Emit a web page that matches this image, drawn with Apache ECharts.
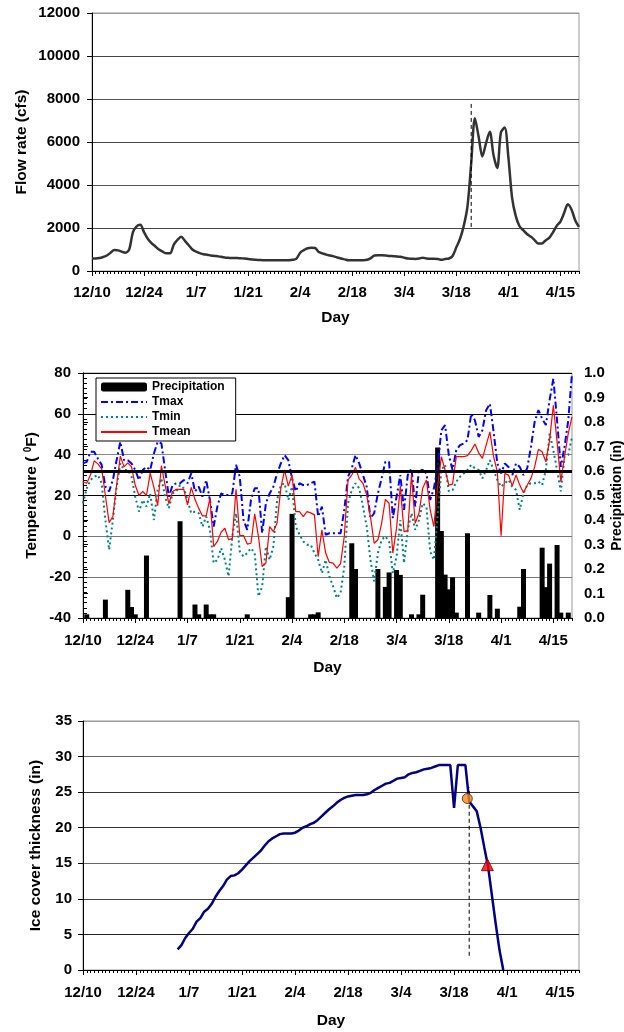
<!DOCTYPE html>
<html>
<head>
<meta charset="utf-8">
<script src="https://cdn.jsdelivr.net/npm/echarts@6/dist/echarts.min.js"></script>
<style>
html,body{margin:0;padding:0;background:#fff;}
#c{width:624px;height:1032px;}
</style>
</head>
<body>
<div id="c"></div>
<script>
// ---------------- data ----------------
// day index 0 = 12/10, 131 = 4/20
const tickLabels = ['12/10','12/24','1/7','1/21','2/4','2/18','3/4','3/18','4/1','4/15'];
const tickDays = [0,14,28,42,56,70,84,98,112,126];
const lastDay = 131;

// daily flow rate (cfs)
const flow = [
 580,580,600,650,720,850,980,960,900,850,
 1000,1800,2080,2150,1800,1500,1300,1150,1000,900,
 820,820,1230,1450,1590,1400,1200,1000,900,830,
 780,760,720,700,680,650,620,610,600,600,
 590,580,560,540,520,510,500,500,500,500,
 500,500,500,500,520,580,850,970,1060,1080,
 1070,880,820,760,720,680,630,580,540,500,
 500,500,500,500,520,600,720,730,730,720,
 700,690,680,660,620,580,570,560,580,620,
 580,570,570,560,520,560,580,700,1100,1500,
 2100,3000,5000,7100,6250,5330,5950,6480,5400,4790,
 6450,6670,5300,3400,2550,2080,1900,1720,1600,1450,
 1280,1280,1420,1540,1800,2100,2300,2700,3100,2850,
 2350,2050
];

// daily temperatures (F)
const tmax = [
 35.7,36.5,41.4,41.4,38,35,24.3,22,27.6,37.3,
 46.3,37.3,37.3,35.7,32.5,27.6,32.5,34,32.5,40.6,
 46.3,45.5,32.5,19.4,25.1,26,26,27.6,26,30.8,
 22,24.3,19.4,27.6,17.8,4.8,14.6,21,20.2,20.2,
 21,35,29.2,8,3.2,17.8,23.5,23.5,1.5,16.2,
 21,24.3,30.8,35.7,39.8,37.3,28.4,22,26,25.1,
 25.1,26,26.8,9.7,14.6,0.8,1.5,1.5,1.5,1.5,
 13,29.2,33.3,39.8,35.7,30,24.3,8.9,11.3,21,
 28.4,36.5,36.5,8.9,19.4,30,13,30,33.3,14.6,
 32.5,32.5,30.8,17.8,23.5,34,52,54.5,39.8,32.5,
 42.2,44.7,45.5,47.1,60.1,56.8,48.7,52,61.8,65,
 51.2,35.7,30.8,35.7,34,30,35.7,34,30,33.3,
 43.8,56.1,61.8,57.7,54.5,66.7,77.2,56.8,34,43.8,
 56.8,79.7
];
const tmin = [
 16.2,23.5,27.6,29.2,30,26,8,-6.6,8,24.3,
 35.7,32.5,32.5,29.2,19.4,12.1,17.8,14.6,21,8,
 22.7,28.4,19.4,13.7,21,22,25.1,23.5,17.8,11.3,
 12.1,11.3,4.8,9.7,3.2,-13.1,-11.5,-5.8,-11.5,-19.6,
 0,11.3,-7.4,-9.9,-8.2,-5.8,-8.2,-29.4,-24.5,-5,
 -11.5,-5,17.8,25.1,26,17.8,24.3,4.8,0.8,-2.5,
 -4.1,-4.1,-8.2,-11.5,-18,-11.5,-19.6,-24.5,-30.2,-27.8,
 -14.8,16.2,22.7,26,23.5,14.6,4.8,-11.5,-22,-8.2,
 -1.7,0,-2.5,-18,-9.9,8,-13.1,3.2,11.3,3.2,
 8,16.2,14.6,-7.4,-11.5,9.7,32.5,35,22,22.7,
 26.8,29.2,30.8,32.5,35,33.3,32.5,28.4,32.5,37.3,
 32.5,27.6,24.3,26,27.6,24.3,22.7,13,21,25.1,
 26,26,26.8,25.1,32.5,50.4,42.2,32.5,22,39,
 39.8,48.7
];
const tmean = [
 26.7,26,30,37,35.5,33,20,6.7,9.7,25,
 39.3,34,36,34,25,20,22,20,31,24,
 15,34.6,25,16,22,23,23,23,15.4,24,
 18,13.7,10,10,18.6,-5,-2.5,2,4,-1.7,
 -1,23,0.4,0.4,-3.8,-3.4,11,0,-14.8,-13,
 4.8,2.3,6.7,23.5,32.5,24.6,30,12.1,12.1,9.7,
 12.1,11.5,10.5,-9.9,3.2,-8.2,-12.8,-13.1,-15.6,-13.4,
 0,27.6,30,33.8,28,26,20.2,9.7,-3.4,-1.7,
 6.4,18.1,16.2,-8.2,4,24.6,2.3,2.8,30,6.4,
 11.3,23.5,27.6,13,4.8,24.3,39,32.5,25.1,25.6,
 39,39,39,39.5,42,45.2,40.9,38.2,44.7,51.2,
 39,31.6,0.3,30.8,30,24.8,30,25.1,21.4,25,
 28.4,34,42.6,41.4,36.5,47.1,64.2,46.3,26.8,39,
 50.4,58.5
];
const freezing = 32;

// precipitation (in): days with rain and amounts
const precipDays = [1,6,12,13,14,17,26,30,31,33,34,35,44,55,56,61,62,63,72,73,79,81,82,84,85,88,90,91,95,96,97,98,99,100,103,106,109,111,117,118,123,124,125,127,128,130];
const precipVals = [0.015,0.075,0.115,0.045,0.015,0.255,0.395,0.055,0.015,0.055,0.015,0.015,0.015,0.085,0.425,0.015,0.015,0.023,0.305,0.2,0.2,0.127,0.186,0.196,0.176,0.015,0.015,0.095,0.696,0.355,0.177,0.117,0.166,0.022,0.346,0.022,0.094,0.038,0.046,0.2,0.287,0.126,0.222,0.298,0.022,0.022];

// ice cover thickness (in), days 25..111
const iceStartDay = 25;
const ice = [
 2.9,3.5,4.5,5.2,5.8,6.8,7.3,8.2,8.6,9.3,
 10.3,11.1,11.8,12.7,13.2,13.3,13.6,14.1,14.7,15.3,
 15.8,16.3,16.8,17.5,18.1,18.5,18.8,19.1,19.2,19.2,
 19.2,19.3,19.6,20,20.2,20.5,20.7,21.1,21.6,22.1,
 22.6,23,23.5,23.9,24.2,24.4,24.5,24.6,24.6,24.6,
 24.7,24.9,25.3,25.6,25.9,26.2,26.3,26.6,26.9,27,
 27.1,27.5,27.7,27.8,28,28.2,28.3,28.4,28.6,28.8,
 28.8,28.8,28.8,22.8,28.8,28.8,28.8,23.7,23,22.3,
 20,17.2,14.5,10.5,6.5,2.8,0
];

// ice breakup markers
const breakupDay = 102;
const flowDash = [2050, 7800];
const iceDash = [2, 25.7];
const circlePoint = [101.5, 24.1];
const trianglePoint = [106.8, 14.8];

// ---------------- chart ----------------
const FONT = '"Liberation Sans", Arial, sans-serif';
const TICK_FS = 15;
const NAME_FS = 15.5;
const pairs = (arr, start) => arr.map((v, i) => [i + (start || 0), v]);
const allDays = Array.from({length: lastDay + 1}, (_, i) => i);

const grids = [
  {left: 92, top: 13, width: 487, height: 258},
  {left: 83, top: 373, width: 489, height: 245},
  {left: 83, top: 721, width: 496, height: 249}
];

const nameStyle = {fontFamily: FONT, fontWeight: 'bold', fontSize: NAME_FS, color: '#000'};
const labelStyle = {fontFamily: FONT, fontWeight: 'bold', fontSize: TICK_FS, color: '#000'};
const plain = v => String(v);

function xAxesFor(g, nameGap, labelMargin) {
  return [
    {
      type: 'value', gridIndex: g, position: 'bottom', min: 0, max: lastDay,
      axisLine: {show: true, onZero: false, lineStyle: {color: '#000', width: 1}},
      axisTick: {show: true, length: 3, customValues: allDays, lineStyle: {color: '#000', width: 1}},
      axisLabel: {show: false},
      splitLine: {show: false}
    },
    {
      type: 'value', gridIndex: g, position: 'bottom', offset: 0, min: 0, max: lastDay,
      axisLine: {show: false, onZero: false},
      axisTick: {show: true, length: 5, customValues: tickDays, lineStyle: {color: '#000', width: 1}},
      axisLabel: Object.assign({
        show: true, customValues: tickDays, margin: labelMargin,
        formatter: v => tickLabels[tickDays.indexOf(v)] || ''
      }, labelStyle),
      splitLine: {show: false},
      name: 'Day', nameLocation: 'middle', nameGap: nameGap, nameMoveOverlap: false,
      nameTextStyle: nameStyle
    }
  ];
}

const option = {
  animation: false,
  backgroundColor: '#fff',
  textStyle: {fontFamily: FONT},
  grid: grids.map(g => Object.assign({show: true, borderColor: '#999', borderWidth: 1, backgroundColor: 'transparent', containLabel: false, outerBoundsMode: 'none'}, g)),
  xAxis: [].concat(xAxesFor(0, 39, 14), xAxesFor(1, 42, 15.5), xAxesFor(2, 43, 15)),
  yAxis: [
    { // 0 flow
      type: 'value', gridIndex: 0, min: 0, max: 12000, interval: 2000,
      axisLine: {show: true, lineStyle: {color: '#000'}},
      axisTick: {show: true, length: 5, lineStyle: {color: '#000'}},
      axisLabel: Object.assign({margin: 12, formatter: plain}, labelStyle),
      splitLine: {show: true, lineStyle: {color: ['#000','#444','#555','#444','#555','#444','#999'], width: 1}},
      name: 'Flow rate (cfs)', nameLocation: 'middle', nameRotate: 90, nameGap: 62, nameMoveOverlap: false,
      nameTextStyle: nameStyle
    },
    { // 1 temperature
      type: 'value', gridIndex: 1, min: -40, max: 80, interval: 20,
      axisLine: {show: true, lineStyle: {color: '#000'}},
      axisTick: {show: true, length: 5, lineStyle: {color: '#000'}},
      axisLabel: Object.assign({margin: 12, formatter: plain}, labelStyle),
      splitLine: {show: true, lineStyle: {color: ['#000','#777','#777','#000','#888','#000','#000'], width: 1}},
      name: 'Temperature ( {s|0}F)', nameLocation: 'middle', nameRotate: 90, nameGap: 42.5, nameMoveOverlap: false,
      nameTextStyle: Object.assign({rich: {s: {fontFamily: FONT, fontWeight: 'bold', fontSize: 10, color: '#000', verticalAlign: 'top', padding: [0, 0, 7, 0]}}}, nameStyle)
    },
    { // 2 precipitation
      type: 'value', gridIndex: 1, position: 'right', min: 0, max: 1, interval: 0.1,
      axisLine: {show: true, lineStyle: {color: '#000'}},
      axisTick: {show: true, length: 5, lineStyle: {color: '#000'}},
      axisLabel: Object.assign({margin: 12, formatter: v => v.toFixed(1)}, labelStyle),
      splitLine: {show: false},
      name: 'Precipitation (in)', nameLocation: 'middle', nameRotate: 90, nameGap: 38, nameMoveOverlap: false,
      nameTextStyle: Object.assign({}, nameStyle, {fontSize: 14})
    },
    { // 3 ice
      type: 'value', gridIndex: 2, min: 0, max: 35, interval: 5,
      axisLine: {show: true, lineStyle: {color: '#000'}},
      axisTick: {show: true, length: 5, lineStyle: {color: '#000'}},
      axisLabel: Object.assign({margin: 11, formatter: plain}, labelStyle),
      splitLine: {show: true, lineStyle: {color: ['#000','#222','#444','#666','#333','#333','#666','#999'], width: 1}},
      name: 'Ice cover thickness (in)', nameLocation: 'middle', nameRotate: 90, nameGap: 39, nameMoveOverlap: false,
      nameTextStyle: nameStyle
    },
    { // 4 temperature minor ticks (inside)
      type: 'value', gridIndex: 1, position: 'left', min: -40, max: 80, interval: 2.5,
      axisLine: {show: false},
      axisTick: {show: true, inside: true, length: 4, lineStyle: {color: '#000'}},
      axisLabel: {show: false},
      splitLine: {show: false}
    }
  ],
  legend: {
    show: true, orient: 'vertical', left: 96, top: 378,
    backgroundColor: '#fff', borderColor: '#000', borderWidth: 1,
    padding: [3, 11, 3, 4], itemGap: 3, itemWidth: 46, itemHeight: 9,
    textStyle: {fontFamily: FONT, fontWeight: 'bold', fontSize: 12, color: '#000'},
    data: [
      {name: 'Precipitation', icon: 'roundRect'},
      {name: 'Tmax', itemStyle: {opacity: 0}},
      {name: 'Tmin', itemStyle: {opacity: 0}},
      {name: 'Tmean', itemStyle: {opacity: 0}}
    ]
  },
  series: [
    {
      name: 'Flow', type: 'line', xAxisIndex: 0, yAxisIndex: 0,
      data: pairs(flow), symbol: 'none', smooth: 0.3,
      lineStyle: {color: '#333', width: 2.5}
    },
    {
      name: 'FlowBreakup', type: 'line', xAxisIndex: 0, yAxisIndex: 0,
      data: [[breakupDay, flowDash[0]], [breakupDay, flowDash[1]]], symbol: 'none',
      lineStyle: {color: '#000', width: 1, type: [4, 3]}
    },
    {
      name: 'Precipitation', type: 'bar', xAxisIndex: 2, yAxisIndex: 2,
      data: precipDays.map((d, i) => [d, precipVals[i]]),
      barWidth: 5, itemStyle: {color: '#000'}, z: 1
    },
    {
      name: 'Tmax', type: 'line', xAxisIndex: 2, yAxisIndex: 1,
      data: pairs(tmax), symbol: 'none', z: 3,
      itemStyle: {color: '#0000ff'},
      lineStyle: {color: '#0000ff', width: 2, type: [7, 3, 2, 3]}
    },
    {
      name: 'Tmin', type: 'line', xAxisIndex: 2, yAxisIndex: 1,
      data: pairs(tmin), symbol: 'none', z: 3,
      itemStyle: {color: '#008080'},
      lineStyle: {color: '#008080', width: 2, type: [2, 3]}
    },
    {
      name: 'Tmean', type: 'line', xAxisIndex: 2, yAxisIndex: 1,
      data: pairs(tmean), symbol: 'none', z: 4,
      itemStyle: {color: '#ff0000'},
      lineStyle: {color: '#ff0000', width: 1.2},
      markLine: {
        silent: true, symbol: 'none', label: {show: false},
        lineStyle: {color: '#000', width: 3, type: 'solid'},
        data: [{yAxis: freezing}]
      }
    },
    {
      name: 'Ice', type: 'line', xAxisIndex: 4, yAxisIndex: 3,
      data: pairs(ice, iceStartDay), symbol: 'none',
      lineStyle: {color: '#000080', width: 2.5}
    },
    {
      name: 'IceBreakup', type: 'line', xAxisIndex: 4, yAxisIndex: 3,
      data: [[breakupDay, iceDash[0]], [breakupDay, iceDash[1]]], symbol: 'none',
      lineStyle: {color: '#000', width: 1, type: [4, 3]}
    },
    {
      name: 'Circle', type: 'scatter', xAxisIndex: 4, yAxisIndex: 3,
      data: [circlePoint], symbol: 'circle', symbolSize: 10, z: 5,
      itemStyle: {color: '#f7871f', borderColor: '#3a2a10', borderWidth: 1}
    },
    {
      name: 'Triangle', type: 'scatter', xAxisIndex: 4, yAxisIndex: 3,
      data: [trianglePoint], symbol: 'triangle', symbolSize: 12, z: 5,
      itemStyle: {color: '#ff0000', borderColor: '#600000', borderWidth: 1}
    }
  ]
};

const chart = echarts.init(document.getElementById('c'), null, {renderer: 'canvas', width: 624, height: 1032});
chart.setOption(option);
</script>
</body>
</html>
